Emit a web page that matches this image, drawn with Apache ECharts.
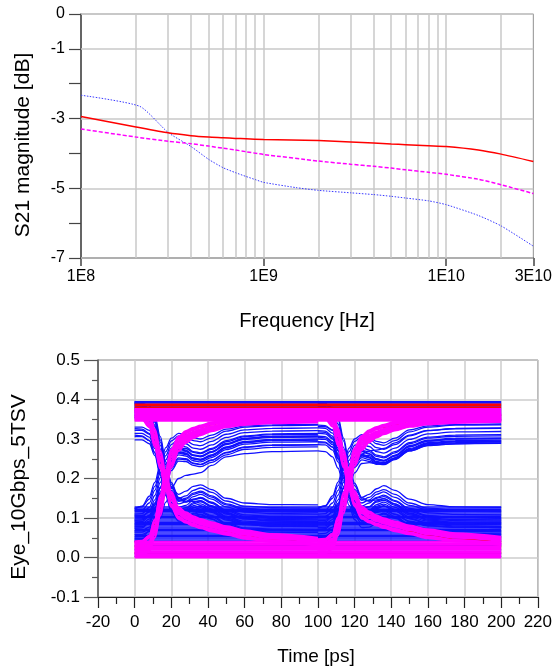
<!DOCTYPE html>
<html><head><meta charset="utf-8">
<script src="https://cdn.jsdelivr.net/npm/echarts@6/dist/echarts.min.js"></script>
<style>html,body{margin:0;padding:0;background:#fff;}#c{width:555px;height:671px;}</style>
</head><body><div id="c"></div>
<script>
// ---------- Top chart: S21 magnitude ----------
const s21Freq = [1e8, 2e8, 3e8, 4e8, 5e8, 6e8, 7e8, 8e8, 1e9, 2e9, 3e9, 4e9, 5e9, 6e9, 8e9, 1e10, 1.5e10, 2e10, 3e10];
const s21Red = [-2.94, -3.24, -3.41, -3.49, -3.53, -3.55, -3.57, -3.58, -3.60, -3.63, -3.67, -3.70, -3.73, -3.75, -3.78, -3.80, -3.90, -4.02, -4.23];
const s21Magenta = [-3.30, -3.53, -3.65, -3.72, -3.79, -3.85, -3.90, -3.95, -4.03, -4.22, -4.31, -4.37, -4.42, -4.47, -4.54, -4.60, -4.74, -4.90, -5.15];
const s21FreqBlue = [1e8, 2.1e8, 3e8, 4e8, 5e8, 6e8, 7e8, 8e8, 9e8, 1e9, 1.5e9, 2e9, 3e9, 4e9, 5e9, 6e9, 8e9, 1e10, 1.5e10, 2e10, 3e10];
const s21Blue = [-2.33, -2.65, -3.40, -3.80, -4.17, -4.41, -4.55, -4.66, -4.75, -4.83, -4.98, -5.06, -5.13, -5.18, -5.23, -5.28, -5.36, -5.47, -5.78, -6.08, -6.66];
const topYLabels = [0, -1, -3, -5, -7];
const topGridDb = [0, -1, -3, -5, -7];
const topGridFreq = [2e8, 3e8, 4e8, 5e8, 6e8, 7e8, 8e8, 9e8, 1e9, 2e9, 3e9, 4e9, 5e9, 6e9, 7e9, 8e9, 9e9, 1e10, 2e10];

// ---------- Bottom chart: eye diagram ----------
const eyeSpan = [0, 200];
const uiStarts = [0, 100];
const eyeRel = [0, 4, 8, 11, 14, 17, 20, 24, 28, 32, 36, 42, 50, 60, 75, 100];

const blueHighLevels = [0.395, 0.392, 0.389, 0.386, 0.383, 0.380, 0.377, 0.374, 0.371, 0.368, 0.365, 0.362, 0.359, 0.356, 0.353];
const blueLowLevels = [0.128, 0.125, 0.122, 0.119, 0.116, 0.113, 0.110, 0.107, 0.104, 0.101, 0.098, 0.095, 0.092, 0.089, 0.086, 0.083, 0.080, 0.077, 0.074, 0.071, 0.068, 0.065, 0.062, 0.059, 0.056, 0.053, 0.050, 0.047, 0.044, 0.041, 0.030, 0.020, 0.010, 0.002];

const blueFallUI1 = [
 [0.390,0.388,0.372,0.335,0.275,0.212,0.170,0.150,0.156,0.170,0.176,0.165,0.143,0.130,0.126,0.125],
 [0.384,0.383,0.368,0.332,0.272,0.208,0.166,0.145,0.150,0.163,0.168,0.156,0.136,0.124,0.119,0.118],
 [0.376,0.374,0.356,0.318,0.258,0.196,0.156,0.136,0.141,0.154,0.160,0.148,0.128,0.115,0.111,0.110],
 [0.368,0.366,0.348,0.308,0.248,0.186,0.146,0.127,0.132,0.146,0.151,0.139,0.120,0.108,0.104,0.103],
 [0.330,0.330,0.322,0.295,0.245,0.188,0.146,0.122,0.126,0.139,0.144,0.131,0.112,0.100,0.096,0.095],
 [0.322,0.322,0.312,0.282,0.232,0.176,0.136,0.114,0.118,0.131,0.136,0.123,0.104,0.092,0.088,0.087],
 [0.314,0.314,0.305,0.276,0.226,0.172,0.130,0.106,0.109,0.121,0.126,0.114,0.095,0.083,0.080,0.079],
 [0.306,0.306,0.296,0.266,0.216,0.163,0.122,0.098,0.100,0.112,0.117,0.106,0.087,0.075,0.072,0.071],
 [0.298,0.298,0.288,0.258,0.208,0.156,0.116,0.092,0.093,0.104,0.108,0.098,0.079,0.068,0.064,0.063],
 [0.360,0.358,0.340,0.300,0.240,0.180,0.136,0.104,0.100,0.106,0.110,0.097,0.077,0.062,0.056,0.055],
 [0.392,0.390,0.376,0.342,0.284,0.220,0.176,0.160,0.168,0.180,0.184,0.172,0.150,0.138,0.134,0.133],
 [0.395,0.390,0.368,0.325,0.262,0.200,0.160,0.142,0.147,0.160,0.165,0.153,0.133,0.121,0.116,0.115],
 [0.380,0.380,0.372,0.345,0.292,0.228,0.180,0.146,0.140,0.148,0.152,0.140,0.118,0.104,0.099,0.098],
 [0.388,0.387,0.378,0.350,0.298,0.236,0.186,0.150,0.142,0.147,0.150,0.137,0.114,0.099,0.093,0.092],
 [0.372,0.368,0.345,0.302,0.240,0.178,0.138,0.118,0.122,0.136,0.141,0.129,0.110,0.097,0.092,0.091],
 [0.326,0.325,0.314,0.284,0.234,0.178,0.138,0.112,0.114,0.126,0.131,0.119,0.100,0.087,0.083,0.082],
 [0.310,0.308,0.296,0.264,0.212,0.158,0.118,0.096,0.098,0.110,0.114,0.103,0.084,0.072,0.068,0.067],
 [0.355,0.353,0.336,0.298,0.240,0.182,0.140,0.114,0.116,0.126,0.130,0.117,0.097,0.084,0.079,0.078],
 [0.392,0.391,0.384,0.358,0.306,0.242,0.190,0.152,0.142,0.142,0.143,0.128,0.104,0.088,0.081,0.080]
];
const blueRiseUI1 = [
 [0.125,0.128,0.148,0.180,0.225,0.268,0.295,0.308,0.305,0.296,0.293,0.303,0.320,0.330,0.334,0.335],
 [0.118,0.120,0.138,0.170,0.215,0.258,0.286,0.300,0.296,0.286,0.283,0.294,0.312,0.323,0.327,0.328],
 [0.110,0.111,0.127,0.157,0.202,0.247,0.277,0.292,0.288,0.277,0.274,0.285,0.304,0.316,0.320,0.321],
 [0.102,0.103,0.117,0.146,0.190,0.236,0.268,0.284,0.280,0.268,0.265,0.276,0.296,0.308,0.313,0.314],
 [0.094,0.095,0.107,0.135,0.178,0.225,0.259,0.276,0.272,0.260,0.257,0.268,0.288,0.301,0.306,0.307],
 [0.086,0.086,0.097,0.124,0.166,0.214,0.250,0.268,0.264,0.252,0.249,0.260,0.280,0.294,0.299,0.300],
 [0.078,0.078,0.088,0.113,0.154,0.203,0.241,0.260,0.257,0.245,0.242,0.253,0.273,0.287,0.292,0.293],
 [0.068,0.068,0.077,0.100,0.140,0.190,0.231,0.252,0.250,0.239,0.236,0.247,0.266,0.280,0.285,0.286],
 [0.058,0.058,0.066,0.087,0.126,0.176,0.220,0.244,0.243,0.233,0.230,0.241,0.260,0.274,0.279,0.280],
 [0.048,0.048,0.054,0.070,0.100,0.140,0.176,0.200,0.208,0.211,0.215,0.233,0.255,0.263,0.268,0.270],
 [0.052,0.053,0.066,0.092,0.136,0.190,0.240,0.280,0.300,0.312,0.318,0.327,0.336,0.343,0.348,0.350],
 [0.040,0.041,0.052,0.078,0.120,0.175,0.228,0.270,0.292,0.305,0.312,0.322,0.332,0.340,0.345,0.347],
 [0.122,0.130,0.155,0.190,0.236,0.278,0.302,0.314,0.312,0.303,0.300,0.310,0.325,0.333,0.336,0.337],
 [0.106,0.106,0.115,0.138,0.176,0.220,0.254,0.276,0.276,0.266,0.263,0.274,0.293,0.306,0.311,0.312],
 [0.098,0.098,0.105,0.126,0.162,0.206,0.242,0.266,0.268,0.259,0.256,0.268,0.288,0.302,0.307,0.308],
 [0.090,0.091,0.104,0.132,0.176,0.224,0.258,0.274,0.270,0.258,0.255,0.266,0.286,0.299,0.304,0.305],
 [0.082,0.082,0.092,0.118,0.160,0.208,0.245,0.264,0.261,0.249,0.246,0.257,0.277,0.291,0.296,0.297],
 [0.074,0.075,0.088,0.116,0.160,0.210,0.248,0.266,0.263,0.251,0.248,0.259,0.279,0.292,0.297,0.298],
 [0.064,0.064,0.072,0.094,0.133,0.183,0.226,0.249,0.248,0.238,0.235,0.246,0.265,0.279,0.284,0.285],
 [0.044,0.045,0.056,0.082,0.126,0.182,0.234,0.274,0.296,0.308,0.314,0.324,0.334,0.342,0.346,0.348]
];
const blueFallUI2 = [
 [0.390,0.389,0.374,0.338,0.278,0.214,0.172,0.152,0.160,0.174,0.182,0.170,0.148,0.134,0.128,0.127],
 [0.335,0.334,0.322,0.292,0.242,0.188,0.150,0.138,0.146,0.160,0.166,0.152,0.132,0.121,0.117,0.116],
 [0.328,0.327,0.315,0.285,0.235,0.182,0.144,0.130,0.138,0.152,0.158,0.144,0.124,0.113,0.109,0.108],
 [0.321,0.320,0.307,0.277,0.227,0.175,0.137,0.122,0.129,0.143,0.149,0.136,0.116,0.105,0.101,0.100],
 [0.314,0.313,0.300,0.270,0.220,0.168,0.130,0.114,0.120,0.134,0.140,0.127,0.108,0.097,0.093,0.092],
 [0.307,0.306,0.293,0.263,0.213,0.162,0.124,0.106,0.111,0.124,0.130,0.118,0.099,0.088,0.085,0.084],
 [0.300,0.299,0.286,0.256,0.207,0.156,0.118,0.099,0.103,0.115,0.121,0.109,0.091,0.080,0.077,0.076],
 [0.293,0.292,0.279,0.249,0.200,0.150,0.112,0.092,0.095,0.106,0.112,0.101,0.083,0.072,0.069,0.068],
 [0.286,0.285,0.272,0.242,0.194,0.144,0.106,0.085,0.087,0.097,0.102,0.092,0.075,0.064,0.061,0.060],
 [0.270,0.268,0.255,0.226,0.180,0.132,0.096,0.076,0.077,0.086,0.090,0.081,0.066,0.056,0.053,0.052],
 [0.370,0.368,0.350,0.312,0.252,0.190,0.146,0.112,0.108,0.114,0.118,0.104,0.084,0.068,0.060,0.058],
 [0.395,0.391,0.370,0.328,0.265,0.202,0.162,0.145,0.152,0.166,0.172,0.160,0.138,0.125,0.120,0.119],
 [0.382,0.382,0.374,0.348,0.295,0.231,0.182,0.148,0.143,0.150,0.154,0.142,0.120,0.106,0.101,0.100],
 [0.331,0.331,0.323,0.298,0.250,0.194,0.152,0.126,0.128,0.140,0.145,0.132,0.112,0.100,0.096,0.095],
 [0.318,0.317,0.303,0.272,0.222,0.170,0.132,0.113,0.117,0.130,0.135,0.122,0.103,0.092,0.088,0.087],
 [0.304,0.303,0.290,0.259,0.209,0.158,0.120,0.101,0.105,0.117,0.122,0.110,0.092,0.081,0.077,0.076],
 [0.290,0.290,0.280,0.252,0.204,0.152,0.114,0.093,0.095,0.105,0.110,0.099,0.081,0.070,0.066,0.065],
 [0.360,0.358,0.341,0.302,0.243,0.184,0.141,0.115,0.117,0.127,0.131,0.118,0.098,0.085,0.080,0.079],
 [0.388,0.387,0.380,0.354,0.302,0.238,0.188,0.151,0.143,0.146,0.149,0.135,0.111,0.095,0.089,0.088]
];
const blueRiseUI2 = [
 [0.127,0.130,0.150,0.182,0.226,0.268,0.294,0.306,0.300,0.288,0.284,0.296,0.318,0.330,0.335,0.336],
 [0.118,0.120,0.138,0.170,0.214,0.257,0.284,0.296,0.290,0.278,0.274,0.286,0.308,0.321,0.326,0.327],
 [0.110,0.111,0.127,0.158,0.202,0.246,0.274,0.287,0.281,0.268,0.264,0.277,0.299,0.313,0.318,0.319],
 [0.101,0.102,0.116,0.146,0.190,0.235,0.264,0.278,0.272,0.259,0.255,0.268,0.291,0.305,0.310,0.311],
 [0.093,0.094,0.106,0.134,0.178,0.224,0.254,0.269,0.263,0.250,0.246,0.259,0.283,0.297,0.302,0.303],
 [0.085,0.085,0.096,0.123,0.166,0.213,0.245,0.261,0.255,0.243,0.240,0.253,0.276,0.291,0.296,0.297],
 [0.076,0.076,0.086,0.111,0.153,0.201,0.236,0.253,0.248,0.237,0.235,0.248,0.271,0.286,0.291,0.292],
 [0.068,0.068,0.077,0.100,0.141,0.190,0.228,0.247,0.243,0.236,0.238,0.250,0.270,0.284,0.288,0.289],
 [0.055,0.055,0.064,0.088,0.130,0.184,0.234,0.274,0.296,0.308,0.315,0.324,0.334,0.341,0.346,0.348],
 [0.060,0.061,0.072,0.096,0.136,0.186,0.232,0.262,0.270,0.272,0.276,0.290,0.310,0.322,0.327,0.328],
 [0.123,0.131,0.156,0.191,0.236,0.277,0.300,0.311,0.306,0.294,0.290,0.302,0.323,0.333,0.337,0.338],
 [0.105,0.105,0.114,0.137,0.175,0.218,0.251,0.271,0.268,0.256,0.252,0.265,0.288,0.302,0.307,0.308],
 [0.097,0.097,0.104,0.125,0.161,0.204,0.238,0.259,0.258,0.247,0.244,0.257,0.280,0.295,0.300,0.301],
 [0.089,0.090,0.103,0.131,0.175,0.222,0.253,0.268,0.262,0.249,0.245,0.258,0.281,0.295,0.300,0.301],
 [0.080,0.080,0.090,0.116,0.158,0.206,0.240,0.257,0.252,0.240,0.237,0.250,0.273,0.288,0.293,0.294],
 [0.072,0.073,0.086,0.114,0.158,0.207,0.242,0.259,0.253,0.241,0.238,0.251,0.274,0.289,0.294,0.295],
 [0.050,0.050,0.058,0.080,0.120,0.170,0.214,0.238,0.240,0.238,0.238,0.250,0.270,0.283,0.288,0.290],
 [0.045,0.046,0.058,0.084,0.128,0.184,0.236,0.276,0.298,0.310,0.316,0.326,0.336,0.343,0.347,0.349]
];

const redHighLevels = [0.388, 0.384, 0.380];
const redLowLevels = [0.012, 0.028];
const redFallUI1 = [[0.372,0.370,0.352,0.312,0.254,0.194,0.150,0.122,0.112,0.102,0.094,0.080,0.066,0.055,0.046,0.042]];
const redRiseUI1 = [[0.040,0.041,0.052,0.085,0.140,0.205,0.262,0.300,0.318,0.326,0.330,0.336,0.345,0.352,0.357,0.360]];
const redFallUI2 = [[0.372,0.370,0.352,0.312,0.254,0.194,0.150,0.122,0.112,0.102,0.094,0.080,0.066,0.055,0.046,0.040]];
const redRiseUI2 = [[0.042,0.043,0.055,0.088,0.143,0.207,0.263,0.300,0.317,0.325,0.330,0.336,0.345,0.352,0.357,0.360]];

const magHighLevels = [0.376, 0.373, 0.370, 0.367, 0.364, 0.361, 0.358, 0.355, 0.352, 0.349, 0.346];
const magLowLevels = [0.040, 0.036, 0.032, 0.028, 0.024, 0.020, 0.016, 0.012, 0.008, 0.004, 0.000];
const magFallUI1 = [
 [0.370,0.368,0.350,0.300,0.245,0.190,0.145,0.110,0.098,0.090,0.084,0.077,0.068,0.058,0.048,0.040],
 [0.360,0.358,0.340,0.290,0.235,0.180,0.135,0.103,0.092,0.085,0.079,0.072,0.063,0.053,0.043,0.034],
 [0.365,0.365,0.355,0.310,0.255,0.200,0.155,0.118,0.105,0.097,0.090,0.083,0.073,0.063,0.053,0.046],
 [0.350,0.350,0.330,0.280,0.225,0.170,0.128,0.098,0.088,0.080,0.074,0.066,0.058,0.048,0.040,0.030],
 [0.372,0.372,0.360,0.318,0.262,0.207,0.160,0.122,0.110,0.100,0.094,0.086,0.076,0.066,0.056,0.048],
 [0.355,0.353,0.335,0.285,0.230,0.175,0.130,0.100,0.090,0.082,0.076,0.068,0.060,0.050,0.041,0.032],
 [0.368,0.367,0.352,0.305,0.250,0.195,0.150,0.114,0.101,0.093,0.087,0.080,0.070,0.060,0.050,0.043],
 [0.358,0.356,0.338,0.288,0.232,0.177,0.132,0.101,0.091,0.083,0.077,0.070,0.061,0.051,0.042,0.033],
 [0.374,0.374,0.365,0.325,0.270,0.214,0.166,0.127,0.114,0.104,0.097,0.089,0.079,0.069,0.059,0.050]
];
const magRiseUI1 = [
 [0.030,0.030,0.040,0.080,0.140,0.205,0.260,0.295,0.310,0.318,0.325,0.332,0.340,0.346,0.350,0.352],
 [0.020,0.020,0.032,0.070,0.128,0.190,0.248,0.285,0.302,0.312,0.320,0.328,0.336,0.342,0.346,0.348],
 [0.040,0.042,0.055,0.095,0.155,0.218,0.270,0.303,0.318,0.326,0.332,0.340,0.348,0.354,0.358,0.360],
 [0.010,0.010,0.022,0.058,0.115,0.178,0.235,0.276,0.295,0.306,0.314,0.323,0.332,0.338,0.342,0.344],
 [0.035,0.036,0.050,0.088,0.148,0.212,0.265,0.300,0.315,0.323,0.330,0.337,0.344,0.350,0.354,0.356],
 [0.015,0.016,0.028,0.064,0.120,0.184,0.240,0.280,0.298,0.309,0.317,0.326,0.334,0.340,0.344,0.346],
 [0.025,0.025,0.036,0.075,0.134,0.198,0.254,0.290,0.306,0.315,0.322,0.330,0.338,0.344,0.348,0.350],
 [0.005,0.005,0.016,0.050,0.106,0.170,0.228,0.270,0.290,0.302,0.310,0.320,0.330,0.336,0.340,0.342],
 [0.038,0.040,0.054,0.096,0.158,0.222,0.274,0.306,0.320,0.328,0.334,0.342,0.350,0.356,0.360,0.362]
];
const magFallUI2 = [
 [0.372,0.370,0.354,0.306,0.250,0.194,0.148,0.112,0.100,0.092,0.086,0.078,0.069,0.059,0.050,0.042],
 [0.362,0.360,0.343,0.294,0.238,0.182,0.137,0.104,0.093,0.086,0.080,0.072,0.063,0.053,0.044,0.035],
 [0.367,0.366,0.357,0.313,0.258,0.202,0.157,0.120,0.107,0.099,0.092,0.084,0.074,0.064,0.055,0.047],
 [0.352,0.351,0.332,0.283,0.228,0.172,0.130,0.099,0.089,0.081,0.075,0.067,0.059,0.049,0.041,0.032],
 [0.375,0.374,0.362,0.320,0.264,0.209,0.162,0.124,0.112,0.102,0.096,0.088,0.078,0.068,0.058,0.050],
 [0.357,0.355,0.337,0.287,0.232,0.177,0.132,0.101,0.091,0.083,0.077,0.069,0.061,0.051,0.042,0.033],
 [0.370,0.369,0.355,0.309,0.254,0.198,0.152,0.116,0.103,0.095,0.089,0.081,0.072,0.062,0.053,0.045],
 [0.360,0.358,0.340,0.291,0.235,0.179,0.134,0.102,0.092,0.084,0.078,0.071,0.062,0.052,0.043,0.034],
 [0.376,0.376,0.367,0.327,0.272,0.216,0.168,0.129,0.116,0.106,0.099,0.091,0.081,0.071,0.061,0.052]
];
const magRiseUI2 = [
 [0.038,0.038,0.048,0.086,0.145,0.208,0.262,0.296,0.311,0.319,0.326,0.333,0.341,0.347,0.351,0.353],
 [0.030,0.030,0.040,0.076,0.133,0.194,0.250,0.286,0.303,0.313,0.321,0.329,0.337,0.343,0.347,0.349],
 [0.046,0.047,0.060,0.100,0.160,0.222,0.272,0.304,0.319,0.327,0.333,0.341,0.349,0.355,0.359,0.361],
 [0.020,0.020,0.030,0.064,0.120,0.182,0.238,0.277,0.296,0.307,0.315,0.324,0.333,0.339,0.343,0.345],
 [0.042,0.043,0.055,0.094,0.153,0.216,0.267,0.301,0.316,0.324,0.331,0.338,0.345,0.351,0.355,0.357],
 [0.025,0.026,0.036,0.070,0.126,0.188,0.243,0.281,0.299,0.310,0.318,0.327,0.335,0.341,0.345,0.347],
 [0.034,0.034,0.044,0.081,0.139,0.201,0.256,0.291,0.307,0.316,0.323,0.331,0.339,0.345,0.349,0.351],
 [0.012,0.012,0.022,0.056,0.112,0.175,0.232,0.272,0.292,0.304,0.312,0.322,0.331,0.337,0.341,0.343],
 [0.044,0.046,0.060,0.102,0.164,0.227,0.277,0.308,0.322,0.330,0.336,0.344,0.352,0.358,0.362,0.364]
];

// ---------- build ----------
const FONT = '"Liberation Sans", Arial, sans-serif';
const chart = echarts.init(document.getElementById('c'), null, {renderer: 'canvas'});

function fmtE(v) {
  const e = Math.floor(Math.log10(v) + 1e-9);
  const m = Math.round(v / Math.pow(10, e));
  return m + 'E' + e;
}
const series = [];
series.push({
  type: 'line', xAxisIndex: 0, yAxisIndex: 0, data: [], silent: true, z: 1,
  markLine: {
    silent: true, symbol: ['none', 'none'], animation: false, z: 1,
    label: {show: false},
    lineStyle: {color: '#c8c8c8', width: 1.5, type: 'solid'},
    emphasis: {disabled: true},
    data: topGridFreq.map(f => ({xAxis: f})).concat(topGridDb.map(d => ({yAxis: d})))
  }
});
function topLine(xs, ys, color, type, width) {
  series.push({
    type: 'line', xAxisIndex: 0, yAxisIndex: 0, symbol: 'none', silent: true, animation: false,
    smooth: 0.2, z: 3,
    lineStyle: {color: color, width: width, type: type},
    data: xs.map((f, i) => [f, ys[i]])
  });
}
topLine(s21FreqBlue, s21Blue, '#3a3aff', [1.5, 1.5], 1);
topLine(s21Freq, s21Magenta, '#ff00ff', [4, 2], 1.5);
topLine(s21Freq, s21Red, '#ff0000', 'solid', 1.5);

function eyeLine(points, color, width) {
  series.push({
    type: 'line', xAxisIndex: 1, yAxisIndex: 1, symbol: 'none', silent: true, animation: false,
    smooth: 0.35, smoothMonotone: 'x', z: 3,
    lineStyle: {color: color, width: width},
    data: points
  });
}
function flat(level) { return [[eyeSpan[0], level], [eyeSpan[1], level]]; }
function seg(vals, t0) { return eyeRel.map((r, i) => [t0 + r, vals[i]]); }
function addSet(color, wFlat, wTr, highs, lows, f1, r1, f2, r2) {
  highs.forEach(l => eyeLine(flat(l), color, wFlat));
  lows.forEach(l => eyeLine(flat(l), color, wFlat));
  f1.forEach(v => eyeLine(seg(v, uiStarts[0]), color, wTr));
  r1.forEach(v => eyeLine(seg(v, uiStarts[0]), color, wTr));
  f2.forEach(v => eyeLine(seg(v, uiStarts[1]), color, wTr));
  r2.forEach(v => eyeLine(seg(v, uiStarts[1]), color, wTr));
}
addSet('#1010ff', 1.2, 1.3, blueHighLevels, blueLowLevels, blueFallUI1, blueRiseUI1, blueFallUI2, blueRiseUI2);
addSet('#ff0000', 1.5, 1.5, redHighLevels, redLowLevels, redFallUI1, redRiseUI1, redFallUI2, redRiseUI2);
addSet('#ff00ff', 2, 2.2, magHighLevels, magLowLevels, magFallUI1, magRiseUI1, magFallUI2, magRiseUI2);

const axisCol = '#444';
const option = {
  animation: false,
  backgroundColor: '#ffffff',
  textStyle: {fontFamily: FONT},
  grid: [
    {left: 81, top: 14, width: 455, height: 244, show: true, borderColor: '#909090', borderWidth: 1},
    {left: 98, top: 360, width: 442, height: 237, show: true, borderColor: '#555', borderWidth: 1}
  ],
  xAxis: [
    {
      type: 'log', logBase: 10, gridIndex: 0, min: 1e8, max: 3e10,
      axisLine: {show: true, onZero: false, lineStyle: {color: axisCol, width: 1.5}},
      axisTick: {show: true, length: 8, lineStyle: {color: axisCol, width: 1.5}},
      axisLabel: {fontSize: 16, color: '#000', margin: 11, fontFamily: FONT, formatter: fmtE, showMinLabel: true, showMaxLabel: true, hideOverlap: false},
      splitLine: {show: false}, minorTick: {show: false}, minorSplitLine: {show: false}
    },
    {
      type: 'value', gridIndex: 1, min: -20, max: 220, interval: 20,
      axisLine: {show: true, onZero: false, lineStyle: {color: '#222', width: 1.2}},
      axisTick: {show: true, length: 11, lineStyle: {color: '#222', width: 1.2}},
      minorTick: {show: true, splitNumber: 2, length: 7, lineStyle: {color: '#222', width: 1.2}},
      axisLabel: {fontSize: 17, color: '#000', margin: 17, fontFamily: FONT, showMinLabel: true, showMaxLabel: true, hideOverlap: false},
      splitLine: {show: true, lineStyle: {color: '#cdcdcd', width: 1.5}}
    }
  ],
  yAxis: [
    {
      type: 'value', gridIndex: 0, min: -7, max: 0, interval: 1,
      axisLine: {show: true, onZero: false, lineStyle: {color: axisCol, width: 1.5}},
      axisTick: {show: true, length: 12, lineStyle: {color: axisCol, width: 1.2}},
      axisLabel: {fontSize: 16, color: '#000', margin: 16, fontFamily: FONT, showMinLabel: true, showMaxLabel: true,
        formatter: v => (topYLabels.indexOf(Math.round(v)) >= 0 ? String(Math.round(v)) : '')},
      splitLine: {show: false}
    },
    {
      type: 'value', gridIndex: 1, min: -0.1, max: 0.5, interval: 0.1,
      axisLine: {show: true, onZero: false, lineStyle: {color: '#555', width: 1.5}},
      axisTick: {show: true, length: 14, lineStyle: {color: '#555', width: 1.2}},
      minorTick: {show: true, splitNumber: 2, length: 6, lineStyle: {color: '#555', width: 1.2}},
      axisLabel: {fontSize: 17, color: '#000', margin: 18, fontFamily: FONT, showMinLabel: true, showMaxLabel: true,
        formatter: v => v.toFixed(1)},
      splitLine: {show: true, lineStyle: {color: '#cdcdcd', width: 1.5}}
    }
  ],
  graphic: [
    {type: 'text', x: 23, y: 145, rotation: Math.PI / 2, silent: true,
      style: {text: 'S21 magnitude [dB]', font: '21px ' + FONT, fill: '#000', align: 'center', verticalAlign: 'middle'}},
    {type: 'text', x: 307, y: 321, silent: true,
      style: {text: 'Frequency [Hz]', font: '20px ' + FONT, fill: '#000', align: 'center', verticalAlign: 'middle'}},
    {type: 'text', x: 19, y: 487, rotation: Math.PI / 2, silent: true,
      style: {text: 'Eye_10Gbps_5TSV', font: '21px ' + FONT, fill: '#000', align: 'center', verticalAlign: 'middle'}},
    {type: 'text', x: 316, y: 657, silent: true,
      style: {text: 'Time [ps]', font: '19px ' + FONT, fill: '#000', align: 'center', verticalAlign: 'middle'}}
  ],
  series: series
};
chart.setOption(option);
</script></body></html>
